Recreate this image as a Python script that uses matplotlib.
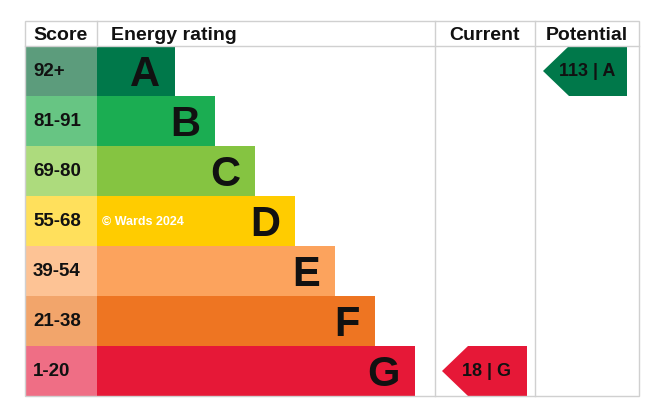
import matplotlib.pyplot as plt
from matplotlib.patches import Rectangle, Polygon

# EPC chart data
bands = ["A", "B", "C", "D", "E", "F", "G"]
score_ranges = ["92+", "81-91", "69-80", "55-68", "39-54", "21-38", "1-20"]
bar_colors = ["#00784a", "#1bad52", "#85c441", "#ffcc00", "#fca35d", "#ee7522", "#e61837"]
score_colors = ["#5c9c7c", "#67c583", "#addb7d", "#ffe05c", "#fdc395", "#f2a56b", "#ef6e85"]
current_score, current_band = 18, "G"
potential_score, potential_band = 113, "A"

W, H = 655, 410
fig = plt.figure(figsize=(W / 100, H / 100), dpi=100)
ax = fig.add_axes([0, 0, 1, 1])
ax.set_xlim(0, W)
ax.set_ylim(H, 0)
ax.axis("off")

font = "Liberation Sans"
txt = "#111111"
grid = "#d0d0d0"

left, right, top, bottom = 25, 639, 22, 397
head_h = 25
row_h = 50
score_w = 72
bar_x0 = left + score_w
cur_x0, pot_x0 = 435, 535

# header
ax.text((left + bar_x0) / 2, top + head_h / 2 + 1, "Score", ha="center", va="center",
        fontsize=14, fontweight="bold", family=font, color=txt)
ax.text(bar_x0 + 14, top + head_h / 2 + 1, "Energy rating", ha="left", va="center",
        fontsize=14, fontweight="bold", family=font, color=txt)
ax.text((cur_x0 + pot_x0) / 2, top + head_h / 2 + 1, "Current", ha="center", va="center",
        fontsize=14, fontweight="bold", family=font, color=txt)
ax.text((pot_x0 + right) / 2, top + head_h / 2 + 1, "Potential", ha="center", va="center",
        fontsize=14, fontweight="bold", family=font, color=txt)

# rows
for i, (b, sr) in enumerate(zip(bands, score_ranges)):
    y0 = top + head_h + i * row_h
    bar_w = 78 + 40 * i
    ax.add_patch(Rectangle((left, y0), score_w, row_h, color=score_colors[i], lw=0))
    ax.add_patch(Rectangle((bar_x0, y0), bar_w, row_h, color=bar_colors[i], lw=0))
    ax.text(left + 8, y0 + row_h / 2, sr, ha="left", va="center",
            fontsize=13.5, fontweight="bold", family=font, color=txt)
    ax.text(bar_x0 + bar_w - 15, y0 + row_h / 2 + 3, b, ha="right", va="center",
            fontsize=30, fontweight="bold", family=font, color=txt)

ax.text(bar_x0 + 5, top + head_h + 3.5 * row_h, "\u00a9 Wards 2024", ha="left", va="center",
        fontsize=9, fontweight="bold", family=font, color="white")


def arrow(x0, x1, band, label):
    i = bands.index(band)
    y0 = top + head_h + i * row_h
    tip = 26
    pts = [(x0, y0 + row_h / 2), (x0 + tip, y0), (x1, y0), (x1, y0 + row_h),
           (x0 + tip, y0 + row_h)]
    ax.add_patch(Polygon(pts, closed=True, color=bar_colors[i], lw=0))
    ax.text((x0 + x1) / 2 + 2, y0 + row_h / 2, label, ha="center", va="center",
            fontsize=13, fontweight="bold", family=font, color=txt)


arrow(442, 527, current_band, f"{current_score} | {current_band}")
arrow(543, 627, potential_band, f"{potential_score} | {potential_band}")

# grid lines
ax.add_patch(Rectangle((left, top), right - left, bottom - top, fill=False, ec=grid, lw=1))
ax.plot([left, right], [top + head_h, top + head_h], color=grid, lw=1)
ax.plot([bar_x0, bar_x0], [top, top + head_h], color=grid, lw=1)
ax.plot([cur_x0, cur_x0], [top, bottom], color=grid, lw=1)
ax.plot([pot_x0, pot_x0], [top, bottom], color=grid, lw=1)

fig.savefig("out.png", dpi=100)
